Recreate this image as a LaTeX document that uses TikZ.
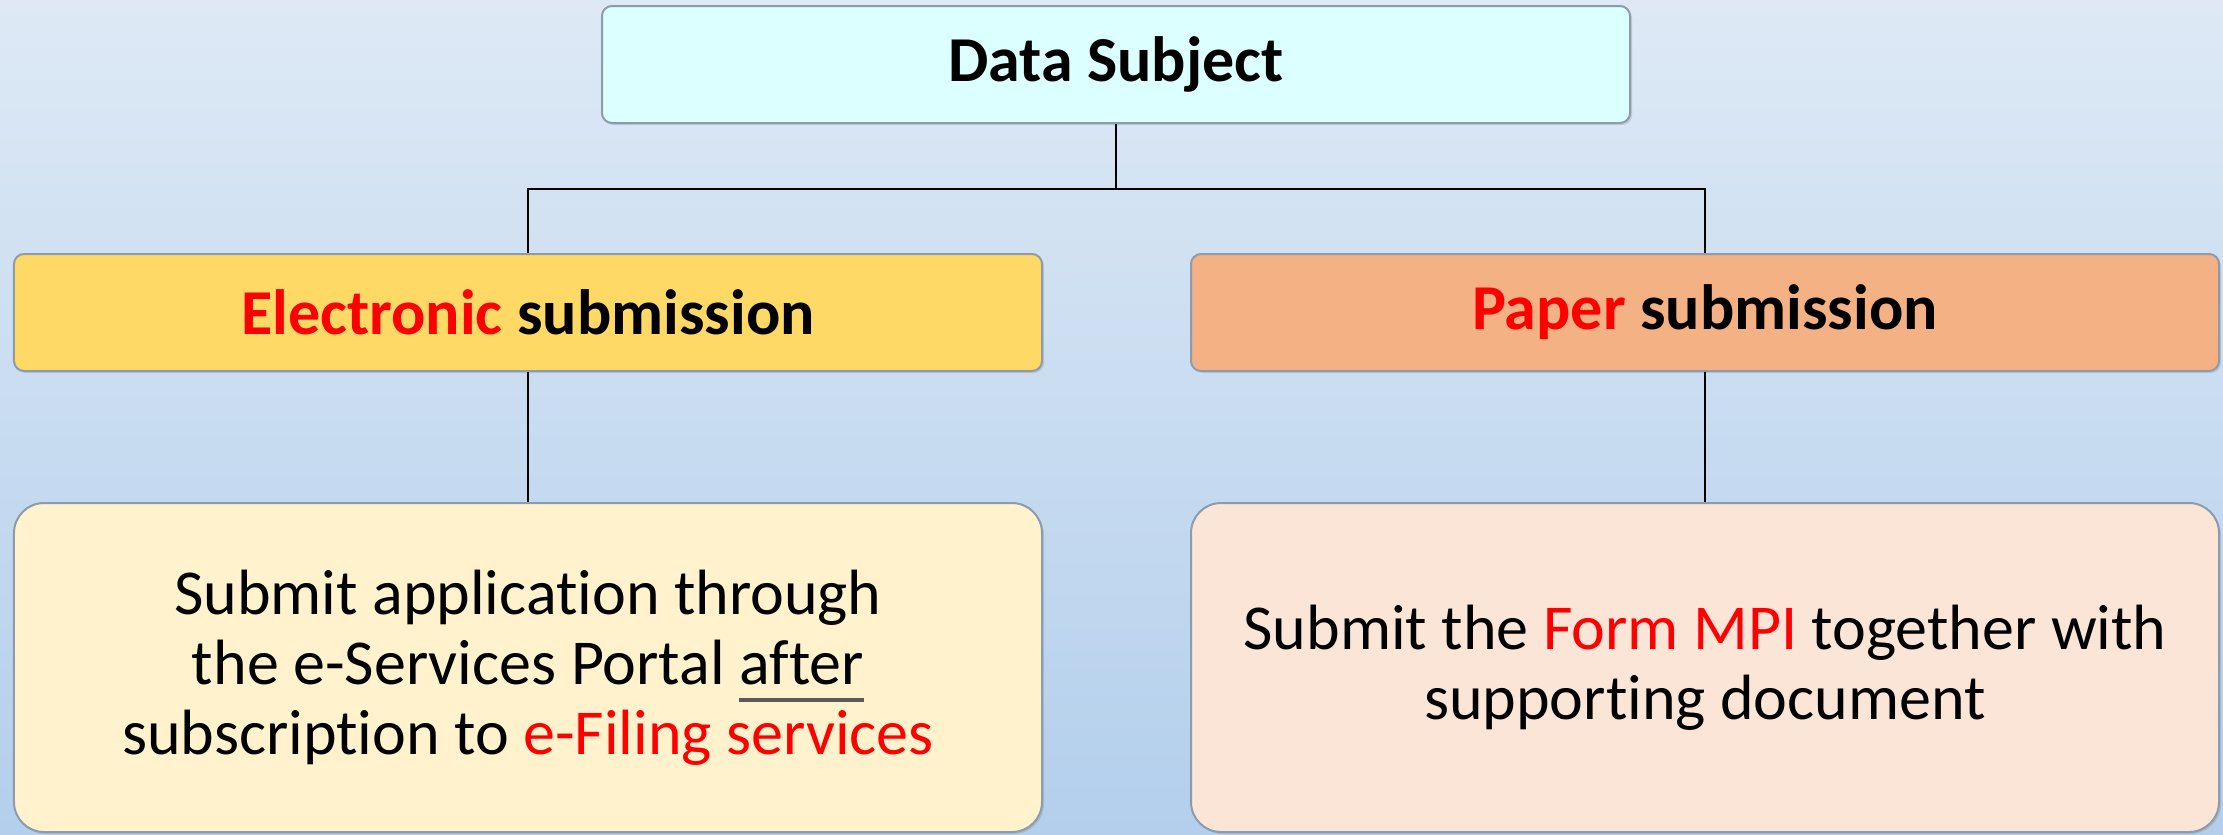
\documentclass[tikz,border=0pt]{standalone}
\usepackage{fontspec}
\setmainfont{Carlito}[Ligatures=NoCommon]
\usetikzlibrary{shadows}
\definecolor{bgtop}{HTML}{DEE9F5}
\definecolor{bgbot}{HTML}{B3CFEC}
\definecolor{dsfill}{HTML}{DCFFFF}
\definecolor{elfill}{HTML}{FFD966}
\definecolor{pafill}{HTML}{F4B183}
\definecolor{elbfill}{HTML}{FFF2CC}
\definecolor{pabfill}{HTML}{FBE5D6}
\definecolor{boxline}{HTML}{8C9CAC}
\definecolor{hired}{HTML}{FF0000}
\definecolor{ulgray}{HTML}{5A5A5A}
\newcommand\grayul[1]{\setbox0\hbox{#1}\rlap{\color{ulgray}\rule[-7pt]{\wd0}{1.3pt}}\box0}
\tikzset{
  basebox/.style={draw=boxline, line width=0.8pt, inner sep=0pt, align=center,
    drop shadow={shadow xshift=0.8pt, shadow yshift=-0.8pt, opacity=0.25}},
  headbox/.style={basebox, rounded corners=4pt, minimum width=411.2pt, minimum height=46.8pt,
    font=\fontsize{25.6pt}{28pt}\selectfont\bfseries},
  bodybox/.style={basebox, rounded corners=12pt, minimum width=411.2pt, minimum height=131.6pt,
    font=\fontsize{25.6pt}{28pt}\selectfont},
  conn/.style={draw=black, line width=0.8pt}
}
\begin{document}
\begin{tikzpicture}[x=0.4pt, y=-0.4pt]
\useasboundingbox (0,0) rectangle (2223,834);
\fill[top color=bgtop, bottom color=bgbot] (0,0) rectangle (2223,834);
\node[headbox, fill=dsfill] (ds) at (1116,64.5) {Data Subject};
\node[headbox, fill=elfill] (el) at (528,312.5) {\textcolor{hired}{Electronic} submission};
\node[headbox, fill=pafill] (pa) at (1705,312.5) {\textcolor{hired}{Paper} submission};
\node[bodybox, fill=elbfill] (elb) at (528,667.5) {Submit application through\\the e-Services Portal \grayul{after}\\subscription to \textcolor{hired}{e-Filing services}};
\node[bodybox, fill=pabfill] (pab) at (1705,667.5) {Submit the \textcolor{hired}{Form MPI} together with\\supporting document};
\coordinate (mid) at (1116,189);
\draw[conn] (ds.south) -- (mid) -| (el.north);
\draw[conn] (mid) -| (pa.north);
\draw[conn] (el.south) -- (elb.north);
\draw[conn] (pa.south) -- (pab.north);
\end{tikzpicture}
\end{document}
